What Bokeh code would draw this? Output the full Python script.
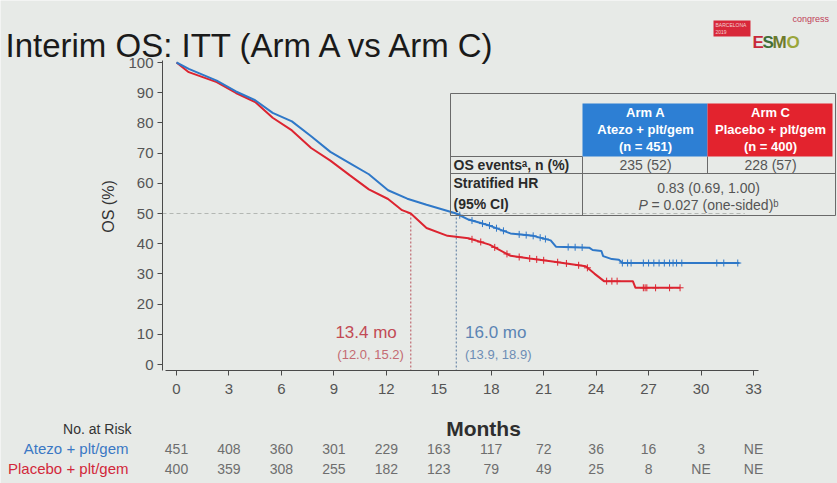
import numpy as np
from bokeh.plotting import figure
from bokeh.models import Range1d, Label, LabelSet, ColumnDataSource, FixedTicker, BoxAnnotation
from bokeh.core.properties import value
from bokeh.embed import file_html
from bokeh.resources import INLINE

# ---------------- data ----------------
arm_a_t = [0, 0.7, 2.3, 3.4, 4.5, 5.5, 6.6, 7.7, 8.8, 9.9, 11.0, 12.1, 13.2, 14.3, 16.0,
           16.7, 17.9, 19.1, 20.4, 21.4, 21.7, 23.6, 23.8, 24.3, 24.4, 24.9, 25.3, 25.5, 32.2]
arm_a_s = [100, 97.9, 94.0, 90.4, 87.5, 83.3, 80.5, 75.6, 70.4, 66.7, 63.0, 57.7, 54.9, 52.9, 50.0,
           48.0, 46.0, 43.4, 42.6, 41.1, 39.0, 38.7, 37.9, 37.6, 35.9, 34.9, 34.7, 33.6, 33.6]
arm_c_t = [0, 0.7, 2.3, 3.4, 4.5, 5.5, 6.6, 7.7, 8.8, 9.9, 11.0, 12.1, 12.9, 13.4, 14.3,
           15.5, 16.7, 17.9, 19.1, 20.2, 21.4, 22.6, 23.4, 23.9, 24.45, 26.1, 26.25, 28.8]
arm_c_s = [100, 96.8, 93.5, 89.9, 86.9, 81.7, 77.5, 71.7, 67.5, 62.7, 58.0, 54.8, 51.1, 50.0, 45.2,
           42.6, 41.8, 39.7, 36.0, 35.1, 34.2, 33.2, 32.5, 30.1, 27.6, 27.6, 25.4, 25.4]
arm_a_cens = [16.2, 16.9, 17.5, 17.9, 18.3, 18.7, 19.6, 20.0, 20.4, 20.8, 21.1, 22.4, 22.8, 23.2,
              25.5, 25.8, 26.0, 26.7, 27.0, 27.3, 27.6, 27.9, 28.2, 28.4, 28.6, 28.9, 30.9, 31.3, 32.1]
arm_c_cens = [16.9, 17.4, 18.2, 18.9, 19.6, 20.2, 20.6, 21.0, 21.8, 22.3, 23.0, 23.5, 24.6, 24.9,
              25.2, 26.7, 26.8, 26.9, 27.4, 28.2, 28.8]
median_a, median_a_ci = 16.0, "(13.9, 18.9)"
median_c, median_c_ci = 13.4, "(12.0, 15.2)"
median_level = 50
risk_months = [0, 3, 6, 9, 12, 15, 18, 21, 24, 27, 30, 33]
risk_a = ["451", "408", "360", "301", "229", "163", "117", "72", "36", "16", "3", "NE"]
risk_c = ["400", "359", "308", "255", "182", "123", "79", "49", "25", "8", "NE", "NE"]
x_ticks = [0, 3, 6, 9, 12, 15, 18, 21, 24, 27, 30, 33]
y_ticks = [0, 10, 20, 30, 40, 50, 60, 70, 80, 90, 100]

# ---------------- layout helpers (pixel -> data) ----------------
W, H = 837, 483
X0PX, X33PX = 176, 753
PXM = (X33PX - X0PX) / 33.0
Y100PX, PXY = 62, 3.02
AXIS_X_PX, AXIS_Y_PX = 162, 370


def dx(sx):
    return (sx - X0PX) / PXM


def dy(sy):
    return 100 - (sy - Y100PX) / PXY


BG = "#e7eae7"
BLUE = "#2f78c8"
RED = "#dc2430"
BLUE_H = "#2d7fd4"
RED_H = "#e3232e"
FONT = "Liberation Sans"

p = figure(width=W, height=H, x_range=Range1d(dx(0), dx(W)), y_range=Range1d(dy(H), dy(0)),
           output_backend="svg", toolbar_location=None,
           min_border_left=0, min_border_right=0, min_border_top=0, min_border_bottom=0)
p.background_fill_color = BG
p.border_fill_color = BG
p.outline_line_color = None
p.xgrid.visible = False
p.ygrid.visible = False

for ax in (p.xaxis, p.yaxis):
    ax.axis_line_color = "#4a4a4a"
    ax.major_tick_line_color = "#4a4a4a"
    ax.minor_tick_line_color = None
    ax.major_tick_in = 0
    ax.major_tick_out = 5
    ax.major_label_text_font = FONT
    ax.major_label_text_font_size = "15px"
    ax.major_label_text_color = "#555555"
p.xaxis.ticker = FixedTicker(ticks=x_ticks)
p.yaxis.ticker = FixedTicker(ticks=y_ticks)
p.xaxis.fixed_location = dy(AXIS_Y_PX)
p.yaxis.fixed_location = dx(AXIS_X_PX)
p.xaxis.bounds = (dx(AXIS_X_PX + 3), 33.3)
p.yaxis.bounds = (dy(AXIS_Y_PX), 100.5)
p.xaxis.major_label_standoff = 8
p.yaxis.major_label_standoff = 4

# reference lines
p.segment(x0=[dx(AXIS_X_PX)], y0=[median_level], x1=[32.5], y1=[median_level],
          line_color="#b3b7b3", line_dash="4 3", line_width=1)
p.segment(x0=[median_c], y0=[median_level], x1=[median_c], y1=[dy(AXIS_Y_PX)],
          line_color="#b8505a", line_dash="2 2", line_width=1)
p.segment(x0=[median_a], y0=[median_level], x1=[median_a], y1=[dy(AXIS_Y_PX)],
          line_color="#56779e", line_dash="2 2", line_width=1)

# curves
p.line(arm_c_t, arm_c_s, line_color=RED, line_width=2)
p.line(arm_a_t, arm_a_s, line_color=BLUE, line_width=2)
p.scatter(arm_c_cens, np.interp(arm_c_cens, arm_c_t, arm_c_s), marker="cross", size=7,
          line_color=RED, line_width=1)
p.scatter(arm_a_cens, np.interp(arm_a_cens, arm_a_t, arm_a_s), marker="cross", size=7,
          line_color=BLUE, line_width=1)

# median labels
p.add_layout(Label(x=median_c - 0.8, y=dy(332), text=f"{median_c} mo", text_align="right",
                   text_baseline="middle", text_font=FONT, text_font_size="17px", text_color="#c24a55"))
p.add_layout(Label(x=median_c - 0.4, y=dy(354), text=median_c_ci, text_align="right",
                   text_baseline="middle", text_font=FONT, text_font_size="13px", text_color="#c46a72"))
p.add_layout(Label(x=median_a + 0.5, y=dy(332), text=f"{median_a} mo", text_align="left",
                   text_baseline="middle", text_font=FONT, text_font_size="17px", text_color="#5b84b4"))
p.add_layout(Label(x=median_a + 0.5, y=dy(354), text=median_a_ci, text_align="left",
                   text_baseline="middle", text_font=FONT, text_font_size="13px", text_color="#6d8db5"))

# title and logo
p.add_layout(Label(x=dx(5), y=dy(45), text="Interim OS: ITT (Arm A vs Arm C)", text_align="left",
                   text_baseline="alphabetic", text_font=FONT, text_font_size="33px", text_color="#1a1a1a"))
p.add_layout(BoxAnnotation(left=dx(713), right=dx(750), top=dy(20), bottom=dy(36),
                           fill_color="#d8283a", fill_alpha=1, line_color=None))
p.add_layout(Label(x=dx(715), y=dy(24), text="BARCELONA", text_align="left", text_baseline="middle",
                   text_font=FONT, text_font_size="5px", text_color="#f2d0d0"))
p.add_layout(Label(x=dx(715), y=dy(31), text="2019", text_align="left", text_baseline="middle",
                   text_font=FONT, text_font_size="5px", text_color="#f2d0d0"))
for ch, sx, col in zip("ESMO", [752, 762, 772, 786], ["#c8283a", "#3f6e3a", "#6d7a2c", "#9aa63a"]):
    p.add_layout(Label(x=dx(sx), y=dy(42), text=ch, text_align="left",
                       text_baseline="alphabetic", text_font=FONT, text_font_size="17px",
                       text_font_style="bold", text_color=col))
p.add_layout(Label(x=dx(792), y=dy(18), text="congress", text_align="left", text_baseline="middle",
                   text_font=FONT, text_font_size="9px", text_color="#c04058"))

# results table
p.add_layout(BoxAnnotation(left=dx(582), right=dx(707), top=dy(103), bottom=dy(156),
                           fill_color=BLUE_H, fill_alpha=1, line_color=None))
p.add_layout(BoxAnnotation(left=dx(707), right=dx(832), top=dy(103), bottom=dy(156),
                           fill_color=RED_H, fill_alpha=1, line_color=None))
tx0 = [dx(450), dx(450), dx(450), dx(450), dx(450), dx(582), dx(707), dx(835)]
ty0 = [dy(93), dy(156), dy(173), dy(215), dy(93), dy(156), dy(156), dy(93)]
tx1 = [dx(835), dx(582), dx(835), dx(835), dx(450), dx(582), dx(707), dx(835)]
ty1 = [dy(93), dy(156), dy(173), dy(215), dy(215), dy(215), dy(173), dy(215)]
p.segment(x0=tx0, y0=ty0, x1=tx1, y1=ty1, line_color="#6a6a6a", line_width=1)

hdr = [("Arm A", 645, 112), ("Atezo + plt/gem", 645, 129), ("(n = 451)", 645, 146),
       ("Arm C", 770, 112), ("Placebo + plt/gem", 770, 129), ("(n = 400)", 770, 146)]
for t, sx, sy in hdr:
    p.add_layout(Label(x=dx(sx), y=dy(sy), text=t, text_align="center", text_baseline="middle",
                       text_font=FONT, text_font_size="13px", text_font_style="bold", text_color="white"))
rows = [("OS eventsᵃ, n (%)", 164), ("Stratified HR", 182), ("(95% CI)", 203)]
for t, sy in rows:
    p.add_layout(Label(x=dx(453), y=dy(sy), text=t, text_align="left", text_baseline="middle",
                       text_font=FONT, text_font_size="14px", text_font_style="bold", text_color="#2a2a2a"))
cells = [("235 (52)", 645, 164), ("228 (57)", 770, 164), ("0.83 (0.69, 1.00)", 708, 187)]
for t, sx, sy in cells:
    p.add_layout(Label(x=dx(sx), y=dy(sy), text=t, text_align="center", text_baseline="middle",
                       text_font=FONT, text_font_size="14px", text_color="#555555"))
p.add_layout(Label(x=dx(638), y=dy(204), text="P", text_align="left", text_baseline="middle",
                   text_font=FONT, text_font_size="14px", text_font_style="italic", text_color="#555555"))
p.add_layout(Label(x=dx(651), y=dy(204), text="= 0.027 (one-sided)ᵇ", text_align="left",
                   text_baseline="middle", text_font=FONT, text_font_size="14px", text_color="#555555"))

# axis titles
p.add_layout(Label(x=dx(108), y=dy(206), text="OS (%)", angle=np.pi / 2, text_align="center",
                   text_baseline="middle", text_font=FONT, text_font_size="16px", text_color="#333333"))
p.add_layout(Label(x=dx(483), y=dy(428), text="Months", text_align="center", text_baseline="middle",
                   text_font=FONT, text_font_size="21px", text_font_style="bold", text_color="#2e2e2e"))

# numbers at risk
p.add_layout(Label(x=dx(131), y=dy(428), text="No. at Risk", text_align="right", text_baseline="middle",
                   text_font=FONT, text_font_size="14px", text_color="#333333"))
p.add_layout(Label(x=dx(128), y=dy(448), text="Atezo + plt/gem", text_align="right", text_baseline="middle",
                   text_font=FONT, text_font_size="15px", text_color="#3a78c4"))
p.add_layout(Label(x=dx(128), y=dy(468), text="Placebo + plt/gem", text_align="right", text_baseline="middle",
                   text_font=FONT, text_font_size="15px", text_color="#d2283a"))
src_a = ColumnDataSource(dict(x=risk_months, y=[dy(448)] * len(risk_months), t=risk_a))
src_c = ColumnDataSource(dict(x=risk_months, y=[dy(468)] * len(risk_months), t=risk_c))
for src in (src_a, src_c):
    p.add_layout(LabelSet(x="x", y="y", text="t", source=src, text_align="center",
                          text_baseline="middle", text_font=value(FONT), text_font_size=value("14px"),
                          text_color="#6e6e6e"))

open("out.html", "w").write(file_html(p, INLINE))
